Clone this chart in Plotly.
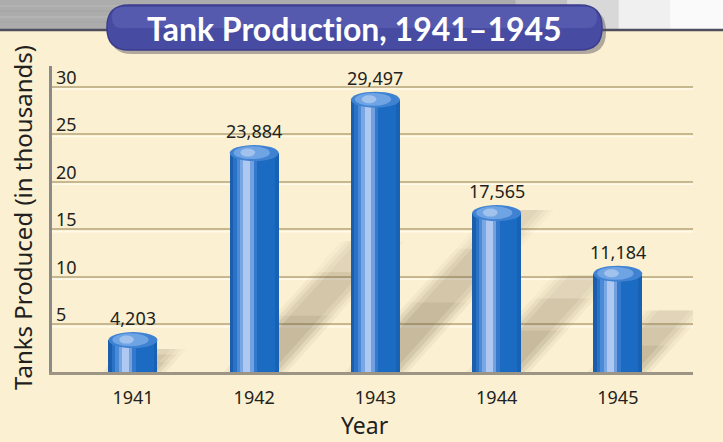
import plotly.graph_objects as go

# ---- data ----
years = ["1941", "1942", "1943", "1944", "1945"]
tanks_thousands = [4.203, 23.884, 29.497, 17.565, 11.184]
value_labels = ["4,203", "23,884", "29,497", "17,565", "11,184"]
y_ticks = [5, 10, 15, 20, 25, 30]
title_text = "Tank Product\u200cion, 1941–1945"
y_title = "Tanks Produced (in thousands)"
x_title = "Year"

# ---- geometry ----
W, H = 723, 442
L, R, T, B = 52, 693, 66, 372
plot_w, plot_h = R - L, B - T
x_range = [-0.668, 4.62]
y_range = [0, 32.2]
ppx = plot_w / (x_range[1] - x_range[0])   # px per x unit
ppy = plot_h / (y_range[1] - y_range[0])   # px per y unit

def xp(px):  # pixel -> paper x
    return (px - L) / plot_w

def yp(py):  # pixel -> paper y
    return (B - py) / plot_h

bw = 49 / ppx           # bar width in x units
cap_h = 16 / ppy        # cap ellipse height in y units
xs = list(range(len(years)))
body = [v - cap_h / 2 for v in tanks_thousands]

BG = "#FBF0D1"
TXT = "#231F20"
FONT = "Noto Sans"

fig = go.Figure()

# cylinder body as vertical stripes (gradient)
stripes = [
    (0.00, 0.07, "#1A5EAD"),
    (0.07, 0.14, "#2A72C6"),
    (0.14, 0.21, "#4A8AD6"),
    (0.21, 0.28, "#78A7E3"),
    (0.28, 0.42, "#AFC8F1"),
    (0.42, 0.49, "#73A1E0"),
    (0.49, 0.56, "#3579CC"),
    (0.56, 0.92, "#1B6BC3"),
    (0.92, 1.00, "#1862B6"),
]
for f0, f1, col in stripes:
    fig.add_trace(go.Bar(
        x=xs, y=body,
        width=[bw * (f1 - f0)] * len(xs),
        offset=[-bw / 2 + bw * f0] * len(xs),
        marker=dict(color=col, line=dict(width=0)),
        hoverinfo="skip", showlegend=False,
    ))

shapes = []

# light emboss line under each gridline
for t in y_ticks:
    shapes.append(dict(type="line", xref="x domain", yref="y",
                       x0=0, x1=1, y0=t - 2.2 / ppy, y1=t - 2.2 / ppy,
                       line=dict(color="#FFFAEA", width=1.5), layer="below"))

# soft diagonal shadows behind bars
for i, v in enumerate(tanks_thousands):
    dy_full = 0.55 * v
    for (s0, s1, fade) in [(0.0, 0.45, 1.0), (0.45, 0.8, 0.75), (0.8, 1.05, 0.45)]:
        for grow, op in [(0.22, 0.07), (0.12, 0.10), (0.02, 0.12), (-0.1, 0.12)]:
            y0 = dy_full * s0
            y1 = dy_full * s1
            sh0 = (y0 * ppy) * 0.9 / ppx
            sh1 = (y1 * ppy) * 0.9 / ppx
            xl = i - bw / 2 - grow * bw + 0.1 * bw
            xr = i + bw / 2 + grow * bw - 0.05 * bw
            path = (f"M {xl + sh0},{y0} L {xr + sh0},{y0} L {xr + sh1},{y1} "
                    f"L {xl + sh1},{y1} Z")
            shapes.append(dict(type="path", path=path, xref="x", yref="y",
                               fillcolor="#6E5E40", opacity=op * fade,
                               line=dict(width=0), layer="between"))

# cylinder caps
for i, v in enumerate(tanks_thousands):
    shapes.append(dict(type="circle", xref="x", yref="y",
                       x0=i - bw / 2, x1=i + bw / 2, y0=v - cap_h, y1=v,
                       fillcolor="#3F82D2", line=dict(width=0), layer="above"))
    shapes.append(dict(type="circle", xref="x", yref="y",
                       x0=i - bw * 0.42, x1=i + bw * 0.32,
                       y0=v - cap_h * 0.88, y1=v - cap_h * 0.08,
                       fillcolor="#6FA4E4", line=dict(width=0), layer="above"))
    shapes.append(dict(type="circle", xref="x", yref="y",
                       x0=i - bw * 0.28, x1=i + bw * 0.02,
                       y0=v - cap_h * 0.72, y1=v - cap_h * 0.22,
                       fillcolor="#A2C2EE", line=dict(width=0), layer="above"))

# top grey band (gradient to white)
n = 14
for k in range(n):
    px0 = k * (W / n)
    px1 = px0 + W / n + 1
    t = min(1.0, max(0.0, (px0 - 470) / 170))
    g = int(172 + (250 - 172) * t)
    shapes.append(dict(type="rect", xref="paper", yref="paper",
                       x0=xp(px0 - 1), x1=xp(px1), y0=yp(29), y1=yp(-1),
                       fillcolor=f"rgb({g},{g},{g})", line=dict(width=0),
                       layer="below"))
for py, c in [(6, "#C4C4C4"), (11, "#9E9E9E"), (17, "#C8C8C8"), (22, "#A2A2A2")]:
    shapes.append(dict(type="line", xref="paper", yref="paper",
                       x0=xp(0), x1=xp(520), y0=yp(py), y1=yp(py),
                       line=dict(color=c, width=1), layer="below", opacity=0.6))
shapes.append(dict(type="line", xref="paper", yref="paper",
                   x0=xp(-1), x1=xp(W + 1), y0=yp(30), y1=yp(30),
                   line=dict(color="#4E4E5C", width=2.5), layer="above"))

def pill(x0, y0, x1, y1, r):
    return (f"M {xp(x0 + r)},{yp(y0)} L {xp(x1 - r)},{yp(y0)} "
            f"Q {xp(x1)},{yp(y0)} {xp(x1)},{yp(y0 + r)} "
            f"L {xp(x1)},{yp(y1 - r)} Q {xp(x1)},{yp(y1)} {xp(x1 - r)},{yp(y1)} "
            f"L {xp(x0 + r)},{yp(y1)} Q {xp(x0)},{yp(y1)} {xp(x0)},{yp(y1 - r)} "
            f"L {xp(x0)},{yp(y0 + r)} Q {xp(x0)},{yp(y0)} {xp(x0 + r)},{yp(y0)} Z")

shapes.append(dict(type="path", xref="paper", yref="paper",
                   path=pill(110, 9, 606, 54, 22), fillcolor="#55505A",
                   opacity=0.45, line=dict(width=0), layer="above"))
shapes.append(dict(type="path", xref="paper", yref="paper",
                   path=pill(107, 5, 602, 50, 22), fillcolor="#474BA2",
                   line=dict(color="#3A3D8C", width=1.5), layer="above"))
shapes.append(dict(type="path", xref="paper", yref="paper",
                   path=pill(112, 7, 597, 28, 10), fillcolor="#5C61B4",
                   opacity=0.7, line=dict(width=0), layer="above"))

annotations = []
for i, (v, lab) in enumerate(zip(tanks_thousands, value_labels)):
    annotations.append(dict(x=i, y=v, xref="x", yref="y", text=lab,
                            showarrow=False, yanchor="middle", yshift=14,
                            font=dict(family=FONT, size=18, color=TXT)))

# y tick labels sitting just above the gridlines, inside the plot
for t in y_ticks:
    annotations.append(dict(x=xp(54), y=t, xref="paper", yref="y", text=str(t),
                            showarrow=False, xanchor="left", yanchor="middle",
                            yshift=10,
                            font=dict(family=FONT, size=18, color=TXT)))

annotations.append(dict(x=xp(354), y=yp(28), xref="paper", yref="paper",
                        text=f"<b>{title_text}</b>", showarrow=False,
                        xanchor="center", yanchor="middle",
                        font=dict(family="Lato", size=32, color="white")))
annotations.append(dict(x=xp(22), y=yp(218), xref="paper", yref="paper",
                        text=y_title, textangle=-90, showarrow=False,
                        xanchor="center", yanchor="middle",
                        font=dict(family=FONT, size=24, color=TXT)))
annotations.append(dict(x=xp(365), y=yp(425), xref="paper", yref="paper",
                        text=x_title, showarrow=False,
                        xanchor="center", yanchor="middle",
                        font=dict(family=FONT, size=23, color=TXT)))

fig.update_layout(
    width=W, height=H,
    margin=dict(l=L, r=W - R, t=T, b=H - B, pad=0),
    paper_bgcolor=BG, plot_bgcolor=BG,
    barmode="overlay", bargap=0,
    shapes=shapes, annotations=annotations,
    showlegend=False,
)
fig.update_xaxes(
    range=x_range, tickmode="array", tickvals=xs, ticktext=years,
    showgrid=False, zeroline=False, showline=True,
    linecolor="#9C9484", linewidth=3, ticks="",
    ticklabelstandoff=7,
    tickfont=dict(family=FONT, size=18, color=TXT),
    fixedrange=True,
)
fig.update_yaxes(
    range=y_range, tickmode="array", tickvals=y_ticks,
    showticklabels=False,
    showgrid=True, gridcolor="#C7B78F", gridwidth=2,
    zeroline=False, showline=True, linecolor="#8A8A8A", linewidth=3,
    ticks="",
    fixedrange=True,
)

fig.write_html(
    "out.html",
    config={"displayModeBar": False},
    post_script="document.body.style.margin='0';document.body.style.overflow='hidden';",
)
